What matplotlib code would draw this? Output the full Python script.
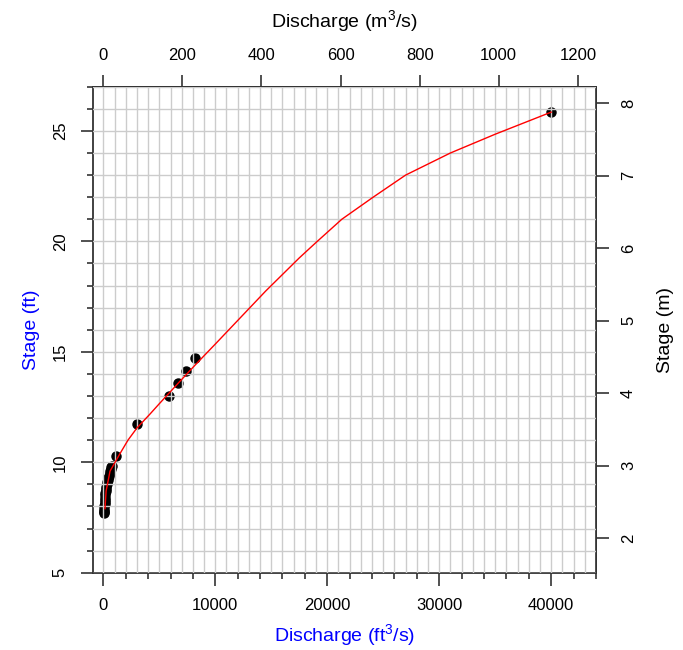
import matplotlib
matplotlib.use("Agg")
import matplotlib.pyplot as plt
from matplotlib.ticker import MultipleLocator, NullLocator
import numpy as np

plt.rcParams['font.family'] = ['Liberation Sans', 'DejaVu Sans']
plt.rcParams['mathtext.default'] = 'regular'

# Observed gaugings (discharge ft3/s, stage ft)
obs_q = [60, 70, 80, 90, 100, 110, 120, 135, 150, 170, 190, 210, 240, 270,
         310, 350, 400, 450, 500, 560, 620, 680, 720, 750,
         1100, 3000, 5900, 6700, 7350, 8150, 40000]
obs_h = [7.7, 7.75, 7.8, 7.9, 8.0, 8.1, 8.2, 8.3, 8.4, 8.5, 8.6, 8.7, 8.8, 8.9,
         9.0, 9.1, 9.2, 9.3, 9.4, 9.5, 9.6, 9.7, 9.8, 9.85,
         10.28, 11.72, 13.0, 13.6, 14.12, 14.74, 25.85]

# Fitted rating curve
curve_q = [150, 250, 600, 1050, 1500, 2200, 3000, 4200, 5000, 6000, 7000,
           8200, 10000, 11500, 13000, 14500, 16000, 17500, 19000, 21300,
           24100, 27000, 31000, 35000, 40000]
curve_h = [7.9, 8.7, 9.6, 10.0, 10.4, 11.0, 11.55, 12.2, 12.65, 13.2, 13.75,
           14.4, 15.35, 16.15, 16.95, 17.75, 18.5, 19.25, 19.95, 21.0,
           22.0, 23.0, 24.0, 24.85, 25.85]

CFS_PER_CMS = 35.3147
FT_PER_M = 3.28084

spine_col = '#333333'

fig = plt.figure(figsize=(6.83, 6.5), dpi=100)
ax = fig.add_axes([0.1357, 0.1189, 0.8726 - 0.1357, 0.8666 - 0.1189])

ax.plot(obs_q, obs_h, 'o', color='black', markersize=6.5, zorder=2)
ax.plot(curve_q, curve_h, '-', color='red', linewidth=1.0, zorder=4)

ax.set_xlim(-950, 44000)
ax.set_ylim(5, 27)

# grid every 1000 cfs and every 1 ft
for gx in np.arange(0, 44001, 1000):
    ax.axvline(gx, color='#cccccc', linewidth=1.0, zorder=3)
for gy in np.arange(5, 28, 1):
    ax.axhline(gy, color='#cccccc', linewidth=1.0, zorder=3)

ax.xaxis.set_major_locator(MultipleLocator(10000))
ax.xaxis.set_minor_locator(MultipleLocator(2000))
ax.yaxis.set_major_locator(MultipleLocator(5))
ax.yaxis.set_minor_locator(MultipleLocator(1))

for s in ax.spines.values():
    s.set_color(spine_col)
    s.set_linewidth(1.3)

ax.tick_params(which='major', length=9, width=1.2, color=spine_col,
               labelsize=12, pad=9)
ax.tick_params(which='minor', length=4.5, width=1.2, color=spine_col)
for lab in ax.get_yticklabels():
    lab.set_rotation(90)
    lab.set_va('center')

ax.set_xlabel('Discharge (ft$^{3}$/s)', color='blue', fontsize=14, labelpad=7)
ax.set_ylabel('Stage (ft)', color='blue', fontsize=14, labelpad=9)

# secondary axes in SI units
top = ax.secondary_xaxis('top', functions=(lambda q: q / CFS_PER_CMS,
                                           lambda q: q * CFS_PER_CMS))
top.set_xticks([0, 200, 400, 600, 800, 1000, 1200])
top.xaxis.set_minor_locator(NullLocator())
top.tick_params(length=9, width=1.2, color=spine_col, labelsize=12, pad=8)
top.spines['top'].set_color(spine_col)
top.spines['top'].set_linewidth(1.3)
top.set_xlabel('Discharge (m$^{3}$/s)', fontsize=14, labelpad=15)

right = ax.secondary_yaxis('right', functions=(lambda h: h / FT_PER_M,
                                               lambda h: h * FT_PER_M))
right.set_yticks([2, 3, 4, 5, 6, 7, 8])
right.yaxis.set_minor_locator(NullLocator())
right.tick_params(length=9, width=1.2, color=spine_col, labelsize=12, pad=9)
right.spines['right'].set_color(spine_col)
right.spines['right'].set_linewidth(1.3)
for lab in right.get_yticklabels():
    lab.set_rotation(90)
    lab.set_va('center')
right.set_ylabel('Stage (m)', fontsize=14, labelpad=15)

fig.savefig('out.png', dpi=100)
